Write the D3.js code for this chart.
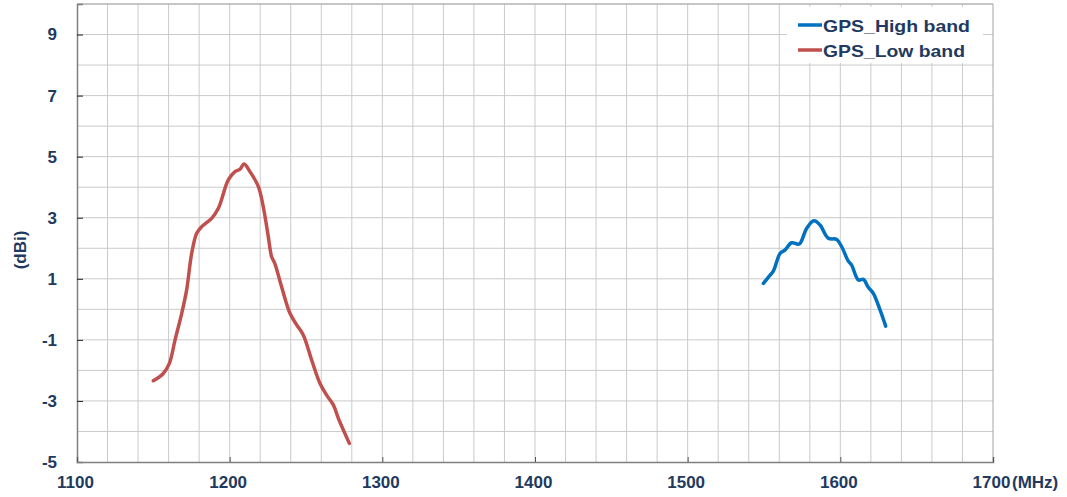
<!DOCTYPE html>
<html>
<head>
<meta charset="utf-8">
<script src="https://cdn.jsdelivr.net/npm/d3@7"></script>
<style>
  html, body { margin: 0; padding: 0; background: #fff; }
  svg { display: block; }
</style>
</head>
<body>
<svg id="chart" width="1067" height="497"></svg>
<script>
// ---- data ----
const lowFreq = [1150, 1156.5, 1160.5, 1164.2, 1168.6, 1171.8, 1175.1, 1178.4, 1181.7, 1188.2, 1192.6, 1199.1, 1203.5, 1206.8, 1209.4, 1213.3, 1218.8, 1222.0, 1225.3, 1227.5, 1229.6, 1234.0, 1239.5, 1243.9, 1248.2, 1253.7, 1259.1, 1263.5, 1267.9, 1271.2, 1278.4];
const lowGain = [-2.34, -2.10, -1.77, -1.01, -0.13, 0.63, 1.83, 2.49, 2.71, 2.98, 3.31, 4.24, 4.51, 4.59, 4.76, 4.51, 4.02, 3.36, 2.38, 1.72, 1.50, 0.74, -0.13, -0.51, -0.84, -1.66, -2.42, -2.81, -3.13, -3.57, -4.39];
const highFreq = [1549.6, 1552.8, 1556.1, 1560.5, 1563.7, 1568.1, 1573.1, 1577.9, 1582.7, 1586.7, 1592.1, 1597.6, 1600.9, 1605.2, 1607.4, 1611.8, 1615.1, 1618.3, 1621.6, 1626.0, 1629.7];
const highGain = [0.85, 1.05, 1.25, 1.83, 1.94, 2.18, 2.14, 2.65, 2.90, 2.76, 2.33, 2.29, 2.05, 1.58, 1.45, 0.96, 0.98, 0.72, 0.52, -0.02, -0.55];
const seriesNames = ["GPS_High band", "GPS_Low band"];
const xTicks = [1100, 1200, 1300, 1400, 1500, 1600, 1700];
const yTicks = [-5, -3, -1, 1, 3, 5, 7, 9];
const xUnit = "(MHz)";
const yUnit = "(dBi)";

// ---- layout ----
const svg = d3.select("#chart");
const L = 77, R = 993, T = 4, B = 462;
const x = d3.scaleLinear().domain([1100, 1700]).range([L, R]);
const y = d3.scaleLinear().domain([-5, 10]).range([B, T]);
const textColor = "#1f3a60";
const font = "'Liberation Sans', Arial, sans-serif";

// grid
const g = svg.append("g");
g.selectAll("line.vg").data(d3.range(1120, 1700, 20)).join("line")
  .attr("x1", d => x(d)).attr("x2", d => x(d)).attr("y1", T).attr("y2", B)
  .attr("stroke", "#cacaca").attr("stroke-width", 1);
g.selectAll("line.hg").data(d3.range(-4, 10.5, 1)).join("line")
  .attr("x1", L).attr("x2", R).attr("y1", d => y(d)).attr("y2", d => y(d))
  .attr("stroke", "#cacaca").attr("stroke-width", 1);

// frame top/right
svg.append("line").attr("x1", L).attr("x2", R).attr("y1", T).attr("y2", T).attr("stroke", "#a6a6a6");
svg.append("line").attr("x1", R).attr("x2", R).attr("y1", T).attr("y2", B).attr("stroke", "#a6a6a6");

// legend background
svg.append("rect").attr("x", 787).attr("y", 7).attr("width", 196).attr("height", 56).attr("fill", "#fff");

// axes
const fmt = d => String(d);
const yAxis = d3.axisLeft(y).tickValues(yTicks).tickSize(-6).tickFormat(fmt);
const ya = svg.append("g").attr("transform", `translate(${L},0)`).call(yAxis);
ya.select(".domain").attr("stroke", "#7f7f7f").attr("stroke-width", 1.5);
ya.selectAll(".tick line").attr("stroke", "#222");
ya.selectAll(".tick text").attr("x", -20).attr("fill", textColor)
  .style("font", `bold 17px ${font}`);

const xAxis = d3.axisBottom(x).tickValues(xTicks).tickSize(-5).tickFormat(fmt);
const xa = svg.append("g").attr("transform", `translate(0,${B})`).call(xAxis);
xa.select(".domain").attr("stroke", "#7f7f7f").attr("stroke-width", 1.5);
xa.selectAll(".tick line").attr("stroke", "#555");
xa.selectAll(".tick text").attr("y", 14).attr("dx", -2).attr("fill", textColor)
  .style("font", `bold 17px ${font}`);

svg.append("text").attr("x", 1012).attr("y", 488).attr("fill", textColor)
  .style("font", `bold 17px 'Liberation Sans Narrow', ${font}`).text(xUnit);
svg.append("text").attr("transform", "translate(26,250) rotate(-90)")
  .attr("text-anchor", "middle").attr("fill", textColor)
  .style("font", `bold 17px ${font}`).text(yUnit);

// lines
const line = d3.line().x(d => x(d[0])).y(d => y(d[1])).curve(d3.curveCatmullRom.alpha(0.5));
const low = lowFreq.map((f, i) => [f, lowGain[i]]);
const high = highFreq.map((f, i) => [f, highGain[i]]);
svg.append("path").datum(low).attr("d", line).attr("fill", "none")
  .attr("stroke", "#c0504d").attr("stroke-width", 3.5).attr("stroke-linejoin", "round").attr("stroke-linecap", "round");
svg.append("path").datum(high).attr("d", line).attr("fill", "none")
  .attr("stroke", "#0070c0").attr("stroke-width", 3.5).attr("stroke-linejoin", "round").attr("stroke-linecap", "round");

// legend
const legColors = ["#0070c0", "#c0504d"];
const legWidths = [147, 142];
seriesNames.forEach((name, i) => {
  const yy = 25 + i * 25;
  svg.append("line").attr("x1", 798).attr("x2", 822).attr("y1", yy).attr("y2", yy)
    .attr("stroke", legColors[i]).attr("stroke-width", 3.5);
  svg.append("text").attr("x", 823).attr("y", yy + 7).attr("fill", textColor)
    .attr("textLength", legWidths[i]).attr("lengthAdjust", "spacingAndGlyphs")
    .style("font", `bold 17px ${font}`).text(name);
});
</script>
</body>
</html>
